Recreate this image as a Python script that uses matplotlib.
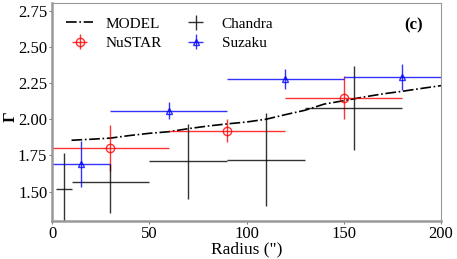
import numpy as np
import matplotlib
matplotlib.use('Agg')
import matplotlib.pyplot as plt

plt.rcParams['font.family'] = ['Liberation Serif', 'DejaVu Serif']

# model curve
model_r = [10, 20, 30, 40, 50, 60, 70, 80, 90, 100, 110, 120, 130, 140, 150, 160, 170, 180, 190, 200]
model_g = [1.855, 1.862, 1.870, 1.888, 1.903, 1.914, 1.935, 1.953, 1.968, 1.981,
           2.000, 2.032, 2.062, 2.105, 2.128, 2.153, 2.175, 2.193, 2.213, 2.232]

# NuSTAR
nu_r = [30, 90, 150]
nu_rerr = [30, 30, 30]
nu_g = [1.80, 1.92, 2.15]
nu_gerr = [0.16, 0.08, 0.15]

# Chandra
ch_r = [6, 30, 70, 110, 155]
ch_rerr = [4, 20, 20, 20, 25]
ch_g = [1.52, 1.57, 1.71, 1.72, 2.08]
ch_gerr_lo = [0.25, 0.22, 0.26, 0.32, 0.29]
ch_gerr_hi = [0.25, 0.12, 0.26, 0.32, 0.29]

# Suzaku
su_r = [15, 60, 120, 180]
su_rerr = [15, 30, 30, 30]
su_g = [1.69, 2.06, 2.28, 2.29]
su_gerr = [0.16, 0.06, 0.07, 0.09]

fig = plt.figure(figsize=(4.57, 2.59), dpi=100)
ax = fig.add_axes([0.114, 0.148, 0.851, 0.839])

ax.plot(model_r, model_g, '-.', color='black', lw=1.2, label='MODEL')
ax.errorbar(nu_r, nu_g, xerr=nu_rerr, yerr=nu_gerr, fmt='o', color='red',
            mfc='none', ms=6, elinewidth=1, capsize=0, alpha=0.8, label='NuSTAR')
ax.errorbar(ch_r, ch_g, xerr=ch_rerr, yerr=[ch_gerr_lo, ch_gerr_hi], fmt='none',
            ecolor='black', elinewidth=1, capsize=0, alpha=0.8, label='Chandra')
ax.errorbar(su_r, su_g, xerr=su_rerr, yerr=su_gerr, fmt='^', color='blue',
            mfc='none', ms=5, elinewidth=1, capsize=0, alpha=0.8, label='Suzaku')

ax.set_xlim(0, 200)
ax.set_ylim(1.3, 2.8)
ax.set_xticks([0, 50, 100, 150, 200])
ax.set_yticks([1.5, 1.75, 2.0, 2.25, 2.5, 2.75])
ax.set_yticklabels(['1.50', '1.75', '2.00', '2.25', '2.50', '2.75'])
ax.tick_params(labelsize=12, length=2, color='gray', direction='out', pad=1.5)

for s in ax.spines.values():
    s.set_color('#999999')
ax.spines['left'].set_linewidth(1.8)
ax.spines['bottom'].set_linewidth(1.8)

ax.set_xlabel('Radius (")', fontsize=12.5, labelpad=0)
ax.set_ylabel('Γ', fontsize=12, fontweight='bold')
ax.yaxis.set_label_coords(-0.085, 0.48)

ax.text(186, 2.65, '(c)', fontsize=12, fontweight='bold', ha='center', va='center')

ax.legend(loc='upper left', ncol=2, frameon=False, fontsize=11, handlelength=1.8,
          columnspacing=1.3, handletextpad=0.8, borderaxespad=0.5, labelspacing=0.35)

fig.savefig('out.png', dpi=100)
